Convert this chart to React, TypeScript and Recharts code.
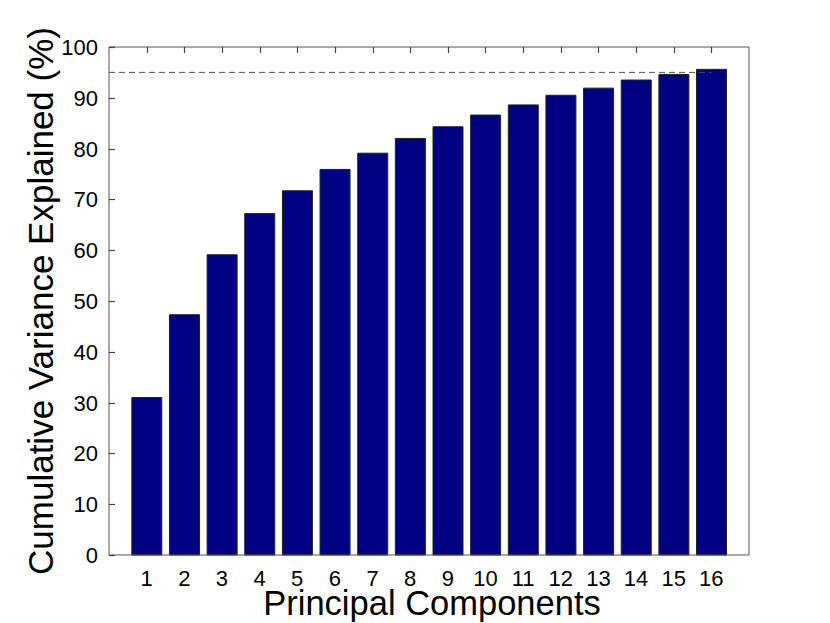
import React from "react";
import {
  BarChart,
  Bar,
  XAxis,
  YAxis,
  ReferenceLine,
} from "recharts";

// principal component index labels
const components = ["1", "2", "3", "4", "5", "6", "7", "8", "9", "10", "11", "12", "13", "14", "15", "16"];

// cumulative variance explained, in percent
const cumulativeVariance = [31.0, 47.3, 59.1, 67.2, 71.7, 75.9, 79.1, 82.0, 84.3, 86.6, 88.6, 90.5, 91.9, 93.5, 94.6, 95.6];

const yTicks = [0, 10, 20, 30, 40, 50, 60, 70, 80, 90, 100];
const xTicks = [1, 2, 3, 4, 5, 6, 7, 8, 9, 10, 11, 12, 13, 14, 15, 16];
const threshold = 95;

const data = components.map((pc, i) => ({
  pc,
  n: Number(pc),
  value: cumulativeVariance[i],
}));

const font = "'Liberation Sans', Arial, sans-serif";
const axisColor = "#555";
const tickColor = "#444";
const tickLen = 6;
const tickFont = 22;

// left axis: inward tick mark plus label outside
const LeftTick = (props: any) => {
  const { x, y, payload } = props;
  const yy = Math.round(y) + 0.5;
  return (
    <g>
      <line x1={x} y1={yy} x2={x + tickLen} y2={yy} stroke={tickColor} strokeWidth={1.2} />
      <text
        x={x - 11}
        y={y}
        dy="0.36em"
        textAnchor="end"
        fontSize={tickFont}
        fontFamily={font}
        fill="#000"
      >
        {payload.value}
      </text>
    </g>
  );
};

const RightTick = (props: any) => {
  const { x, y } = props;
  const yy = Math.round(y) + 0.5;
  return <line x1={x} y1={yy} x2={x - tickLen} y2={yy} stroke={tickColor} strokeWidth={1.2} />;
};

const TopTick = (props: any) => {
  const { x, y } = props;
  const xx = Math.round(x) + 0.5;
  return <line x1={xx} y1={y} x2={xx} y2={y + tickLen} stroke={tickColor} strokeWidth={1.2} />;
};

const BottomTick = (props: any) => {
  const { x, y, payload } = props;
  return (
    <text
      x={x}
      y={y + 15}
      dy="0.71em"
      textAnchor="middle"
      fontSize={tickFont}
      fontFamily={font}
      fill="#000"
    >
      {payload.value}
    </text>
  );
};

export default function App() {
  return (
    <div style={{ position: "absolute", left: 0, top: 0, fontFamily: font }}>
      <BarChart
        width={830}
        height={623}
        data={data}
        margin={{ top: 0, right: 0, bottom: 0, left: 0 }}
        barSize={30}
      >
        <XAxis
          dataKey="pc"
          height={68}
          padding={{ left: 18.82, right: 18.82 }}
          tickLine={false}
          tickSize={0}
          tickMargin={0}
          axisLine={{ stroke: axisColor }}
          tick={BottomTick}
          interval={0}
          label={{
            value: "Principal Components",
            position: "insideBottom",
            offset: 8,
            dx: 3,
            style: { fontSize: 34.5, fill: "#000", fontFamily: font },
          }}
        />
        <XAxis
          xAxisId="top"
          orientation="top"
          dataKey="n"
          type="number"
          domain={[0, 17]}
          ticks={xTicks}
          interval={0}
          height={47}
          tickLine={false}
          tickSize={0}
          tickMargin={0}
          tick={TopTick}
          axisLine={{ stroke: axisColor }}
        />
        <YAxis
          domain={[0, 100]}
          ticks={yTicks}
          interval={0}
          width={109}
          tickLine={false}
          tickSize={0}
          tickMargin={0}
          axisLine={{ stroke: axisColor }}
          tick={LeftTick}
          label={{
            value: "Cumulative Variance Explained (%)",
            angle: -90,
            position: "insideLeft",
            offset: 41,
            style: { textAnchor: "middle", fontSize: 35, fill: "#000", fontFamily: font },
          }}
        />
        <YAxis
          yAxisId="right"
          orientation="right"
          domain={[0, 100]}
          ticks={yTicks}
          interval={0}
          width={81}
          tickLine={false}
          tickSize={0}
          tickMargin={0}
          tick={RightTick}
          axisLine={{ stroke: axisColor }}
        />
        <Bar
          dataKey="value"
          fill="#000080"
          stroke="#222"
          strokeWidth={1}
          isAnimationActive={false}
        />
        <ReferenceLine
          xAxisId="top"
          segment={[
            { x: 0, y: threshold },
            { x: 16, y: threshold },
          ]}
          stroke="#555"
          strokeDasharray="6 4"
        />
      </BarChart>
    </div>
  );
}
